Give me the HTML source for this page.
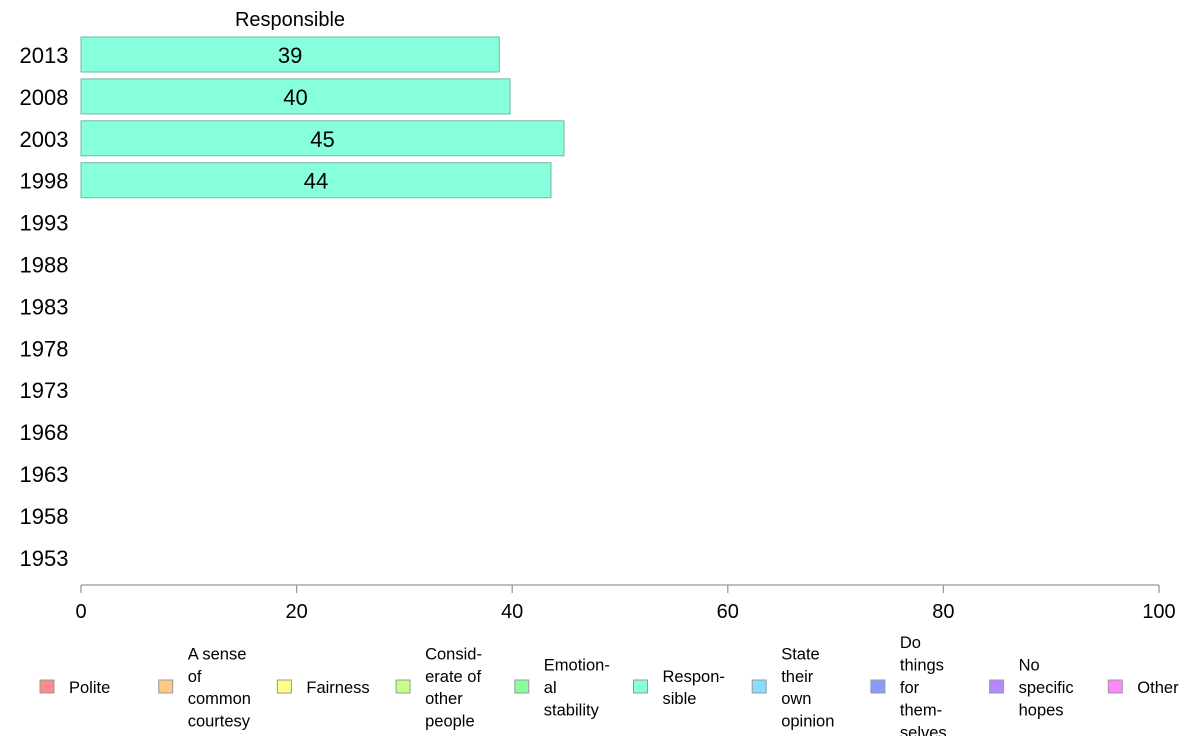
<!DOCTYPE html>
<html><head><meta charset="utf-8"><style>
body{margin:0;background:#fff;width:1188px;height:736px;overflow:hidden;font-family:"Liberation Sans",sans-serif}
svg text{font-family:"Liberation Sans",sans-serif}
</style></head><body>
<svg id="chart" width="1188" height="736" xmlns="http://www.w3.org/2000/svg">
<text x="290" y="26" font-size="20" text-anchor="middle">Responsible</text>
<g id="bars"></g>
<g id="yaxis"></g>
<g id="xaxis"></g>
<g id="legend"></g>
</svg>
<script>
const years = ["2013","2008","2003","1998","1993","1988","1983","1978","1973","1968","1963","1958","1953"];
const values = [38.8, 39.8, 44.8, 43.6, null, null, null, null, null, null, null, null, null];
const xTicks = [0,20,40,60,80,100];
const legendLabels = [["Polite"],["A sense","of","common","courtesy"],["Fairness"],["Consid-","erate of","other","people"],["Emotion-","al","stability"],["Respon-","sible"],["State","their","own","opinion"],["Do","things","for","them-","selves"],["No","specific","hopes"],["Other"]];
const legendColors = ["#ff8a8a","#ffc888","#ffff88","#c4ff88","#88ff9c","#88ffdc","#88dcff","#889cff","#b488ff","#ff88ff"];

const NS="http://www.w3.org/2000/svg";
const x0=81, x1=1159;
const xs=v=>x0+(v/100)*(x1-x0);
const yc=i=>55+i*41.9;
function mk(tag,attrs,parent){const e=document.createElementNS(NS,tag);for(const k in attrs)e.setAttribute(k,attrs[k]);parent.appendChild(e);return e;}
const bars=document.getElementById('bars'),ya=document.getElementById('yaxis'),xa=document.getElementById('xaxis'),lg=document.getElementById('legend');
years.forEach((y,i)=>{
  const t=mk('text',{x:44,y:yc(i)+8,'font-size':22,'text-anchor':'middle'},ya);t.textContent=y;
  
  
  const v=values[i];
  if(v!=null){
    const r=mk('rect',{x:x0,y:yc(i)-18,width:xs(v)-x0,height:35,fill:'#88ffdc',stroke:'#6fb8a0','stroke-width':1},bars);
    
    
    const l=mk('text',{x:(x0+xs(v))/2,y:yc(i)+8,'font-size':22,'text-anchor':'middle'},bars);l.textContent=Math.round(v);
    
    
  }
});
const ax=mk('line',{x1:x0,x2:x1,y1:585,y2:585,stroke:'#999','stroke-width':1.3},xa);


xTicks.forEach(t=>{
  const l=mk('line',{x1:xs(t),x2:xs(t),y1:585,y2:593,stroke:'#999','stroke-width':1.3},xa);
  
  
  const tx=mk('text',{x:xs(t),y:618,'font-size':20,'text-anchor':'middle'},xa);tx.textContent=t;
  
  
});
legendLabels.forEach((lines,i)=>{
  const sx=40+i*118.7;
  const g=mk('g',{},lg);
  
  
  mk('rect',{x:sx,y:680,width:14,height:13,fill:legendColors[i],stroke:'#999','stroke-width':1},g);
  const n=lines.length, top=693-(n-1)*11.2;
  lines.forEach((s,j)=>{const t=mk('text',{x:sx+29,y:top+j*22.4,'font-size':16.5},g);t.textContent=s;});
});
</script>
</body></html>
